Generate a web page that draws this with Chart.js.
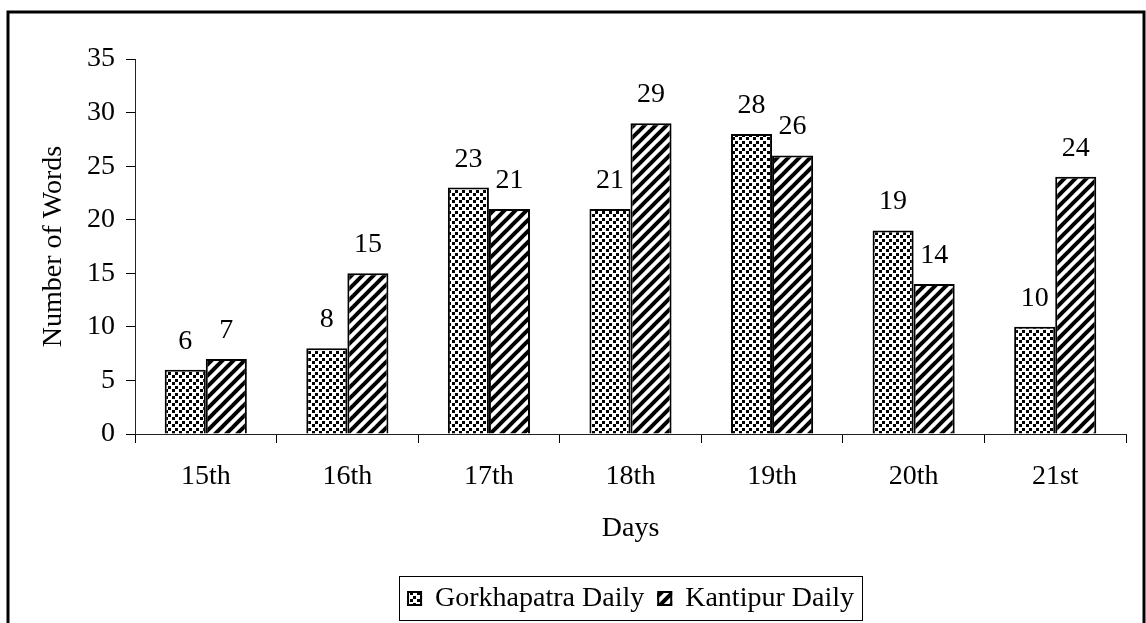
<!DOCTYPE html>
<html>
<head>
<meta charset="utf-8">
<script src="https://cdn.jsdelivr.net/npm/chart.js@4.4.1/dist/chart.umd.min.js"></script>
<style>
  body { margin: 0; background: #fff; }
  #wrap { width: 1146px; height: 623px; }
</style>
</head>
<body>
<div id="wrap"><canvas id="chart" width="1146" height="623"></canvas></div>
<script>
// data
var days = ['15th', '16th', '17th', '18th', '19th', '20th', '21st'];
var gorkhapatra = [6, 8, 23, 21, 28, 19, 10];
var kantipur = [7, 15, 21, 29, 26, 14, 24];
var seriesNames = ['Gorkhapatra Daily', 'Kantipur Daily'];
var yTicks = [0, 5, 10, 15, 20, 25, 30, 35];

var FONT = "'Liberation Serif', 'Times New Roman', serif";
var FS = 28;

// fill patterns
function dotPattern() {
  var c = document.createElement('canvas');
  c.width = 7; c.height = 7;
  var g = c.getContext('2d');
  g.fillStyle = '#fff';
  g.fillRect(0, 0, 7, 7);
  g.fillStyle = '#000';
  g.fillRect(0, 1, 3, 3);
  g.fillRect(4, 4, 3, 3);
  return g.createPattern(c, 'repeat');
}
function stripePattern() {
  var s = 11;
  var c = document.createElement('canvas');
  c.width = s; c.height = s;
  var g = c.getContext('2d');
  g.fillStyle = '#fff';
  g.fillRect(0, 0, s, s);
  g.strokeStyle = '#000';
  g.lineWidth = 4;
  for (var k = -1; k <= 1; k++) {
    g.beginPath();
    g.moveTo(-2 + k * s, s + 2);
    g.lineTo(s + 2 + k * s, -2);
    g.stroke();
  }
  return g.createPattern(c, 'repeat');
}
var fills = [dotPattern(), stripePattern()];

// value labels over the bars, legend box and outer frame
var extras = {
  id: 'extras',
  afterDatasetsDraw: function(chart) {
    var ctx = chart.ctx;
    ctx.save();
    ctx.fillStyle = '#000';
    ctx.font = FS + 'px ' + FONT;
    ctx.textAlign = 'center';
    ctx.textBaseline = 'alphabetic';
    chart.data.datasets.forEach(function(ds, i) {
      chart.getDatasetMeta(i).data.forEach(function(bar, j) {
        ctx.fillText(String(ds.data[j]), bar.x, bar.y - 21);
      });
    });
    ctx.restore();
  },
  afterDraw: function(chart) {
    var ctx = chart.ctx;
    var area = chart.chartArea;
    ctx.save();
    ctx.font = FS + 'px ' + FONT;
    var box = 15, gap = 13;
    var widths = chart.data.datasets.map(function(ds) {
      return box + gap + ctx.measureText(ds.label).width;
    });
    var total = widths[0] + gap + widths[1];
    var x = (area.left + area.right) / 2 - total / 2;
    var top = 576, bottom = 620;
    ctx.strokeStyle = '#000';
    ctx.lineWidth = 1;
    ctx.strokeRect(Math.round(x - 8) + 0.5, top + 0.5, Math.round(total + 16), bottom - top);
    ctx.textBaseline = 'alphabetic';
    ctx.textAlign = 'left';
    chart.data.datasets.forEach(function(ds, i) {
      ctx.fillStyle = ds.backgroundColor;
      ctx.fillRect(x, 591, box, box);
      ctx.lineWidth = 2;
      ctx.strokeRect(x + 1, 592, box - 2, box - 2);
      ctx.fillStyle = '#000';
      ctx.fillText(ds.label, x + box + gap, 606);
      x += widths[i] + gap;
    });
    // outer frame
    ctx.lineWidth = 3;
    ctx.strokeRect(8, 12, 1136, 700);
    ctx.restore();
  }
};

new Chart('chart', {
  type: 'bar',
  data: {
    labels: days,
    datasets: [{
      label: seriesNames[0],
      data: gorkhapatra,
      backgroundColor: fills[0],
      borderColor: '#000',
      borderWidth: 2
    }, {
      label: seriesNames[1],
      data: kantipur,
      backgroundColor: fills[1],
      borderColor: '#000',
      borderWidth: 2
    }]
  },
  options: {
    responsive: false,
    animation: false,
    events: [],
    layout: { padding: { left: 8, right: 20, top: 59, bottom: 63 } },
    datasets: { bar: { categoryPercentage: 0.58, barPercentage: 1.0 } },
    plugins: { legend: { display: false }, tooltip: { enabled: false } },
    scales: {
      x: {
        grid: { drawOnChartArea: false, tickLength: 9, tickColor: '#000', offset: true },
        border: { color: '#222', width: 1 },
        ticks: { color: '#000', padding: 20, font: { family: FONT, size: FS, lineHeight: 1 } },
        title: { display: true, text: 'Days', color: '#000', padding: { bottom: 17 },
                 font: { family: FONT, size: FS, lineHeight: 1 } },
        afterFit: function(s) { s.height = 126; }
      },
      y: {
        min: 0,
        max: 35,
        afterBuildTicks: function(s) { s.ticks = yTicks.map(function(v) { return { value: v }; }); },
        grid: { drawOnChartArea: false, tickLength: 9, tickColor: '#000' },
        border: { color: '#222', width: 1 },
        ticks: { color: '#000', padding: 11, font: { family: FONT, size: FS, lineHeight: 1 } },
        title: { display: true, text: 'Number of Words', color: '#000', padding: { top: 32 },
                 font: { family: FONT, size: FS, lineHeight: 1 } },
        afterFit: function(s) { s.width = 127; }
      }
    }
  },
  plugins: [extras]
});
</script>
</body>
</html>
